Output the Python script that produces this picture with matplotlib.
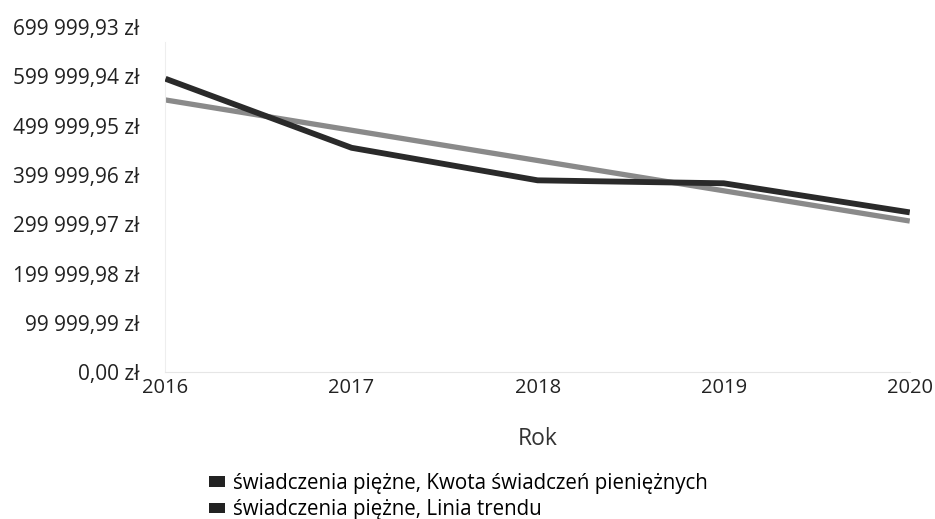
import numpy as np
import matplotlib
matplotlib.use("Agg")
from matplotlib import pyplot as plt
from matplotlib.patches import Patch

years = [2016, 2017, 2018, 2019, 2020]
kwota = [595000, 455000, 389000, 383000, 324000]
y_ticks = [0.00, 99999.99, 199999.98, 299999.97, 399999.96, 499999.95, 599999.94, 699999.93]
labels = ["świadczenia piężne, Kwota świadczeń pieniężnych",
          "świadczenia piężne, Linia trendu"]

plt.rcParams['font.family'] = ['Open Sans', 'DejaVu Sans']

# linia trendu = regresja liniowa
a, b = np.polyfit(years, kwota, 1)
trend = [a * x + b for x in years]


def fmt(v):
    s = "{:,.2f}".format(v).replace(",", " ").replace(".", ",")
    return s + " zł"


fig = plt.figure(figsize=(9.35, 5.19), dpi=100)
ax = fig.add_axes([0.177, 0.283, 0.796, 0.665])

ax.plot(years, kwota, color='#2a2a2a', lw=4.2, solid_capstyle='butt', zorder=3)
ax.plot(years, trend, color='#8a8a8a', lw=3.8, solid_capstyle='butt', zorder=2)

ax.set_xlim(2016, 2020)
ax.set_ylim(0, 699999.93)
ax.set_xticks(years)
ax.set_xticklabels([str(y) for y in years])
ax.set_yticks(y_ticks)
ax.set_yticklabels([fmt(v) for v in y_ticks])
ax.tick_params(axis='y', length=0, pad=19, labelsize=15, colors='#222222')
ax.tick_params(axis='x', length=0, pad=4, labelsize=14.5, colors='#222222')

for s in ['top', 'right']:
    ax.spines[s].set_visible(False)
ax.spines['left'].set_color('#eeeeee')
ax.spines['bottom'].set_color('#e6e6e6')
ax.spines['left'].set_bounds(0, 670000)

ax.set_xlabel("Rok", fontsize=16.5, color='#333333', labelpad=21)

handles = [Patch(facecolor='#222222', edgecolor='none'),
           Patch(facecolor='#222222', edgecolor='none')]
fig.legend(handles, labels, loc='lower left', bbox_to_anchor=(0.213, -0.022),
           frameon=False, fontsize=14.8, handlelength=0.75, handleheight=0.4,
           handletextpad=0.4, labelspacing=0.25, borderaxespad=0.1)

fig.savefig("out.png", dpi=100)
